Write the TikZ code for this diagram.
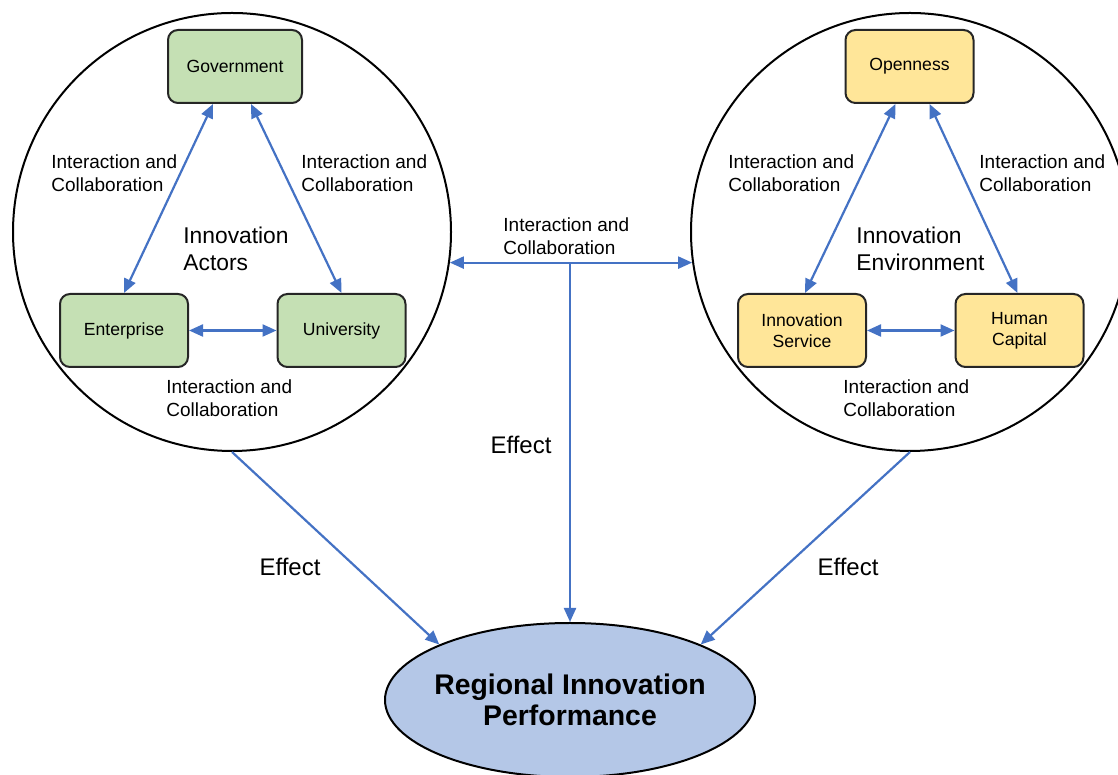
\documentclass[tikz,border=0pt]{standalone}
\usepackage{fontspec}
\setmainfont{Liberation Sans}
\usetikzlibrary{arrows.meta,shapes.geometric}
\definecolor{actorgreen}{HTML}{C5E0B4}
\definecolor{envyellow}{HTML}{FFE699}
\definecolor{perfblue}{HTML}{B4C7E7}
\definecolor{linkblue}{HTML}{4472C4}
\newcommand{\iac}{Interaction and\\Collaboration}

\begin{document}
\begin{tikzpicture}[x=0.5pt,y=0.5pt,>={Triangle[length=7pt,width=6pt]},
  ring/.style={circle,draw,line width=1pt,minimum size=219pt,inner sep=0pt},
  box/.style={draw=black!85,line width=1pt,rounded corners=5pt,minimum width=64pt,
    minimum height=36.5pt,align=center,font=\fontsize{8.8}{10.5}\selectfont},
  link/.style={linkblue,line width=1.1pt},
  note/.style={inner sep=0pt,align=left,anchor=west,font=\fontsize{9.5}{11.5}\selectfont},
  group/.style={inner sep=0pt,align=left,anchor=west,font=\fontsize{11.4}{13.5}\selectfont},
  effect/.style={inner sep=0pt,font=\fontsize{12}{14}\selectfont}]
   \useasboundingbox (0,0) rectangle (1118,775);
   \clip (0,0) rectangle (1118,775);
   % innovation actors
   \begin{scope}
    \node[ring] (actors) at (232,543) {};
    \node[box,fill=actorgreen,minimum width=67pt] (gov) at (235,708.5) {Government};
    \node[box,fill=actorgreen] (ent) at (124,444.5) {Enterprise};
    \node[box,fill=actorgreen] (uni) at (341.5,444.5) {University};
    \draw[link,<->] ([xshift=-11pt]gov.south) -- (ent.north);
    \draw[link,<->] ([xshift=8pt]gov.south) -- (uni.north);
    \draw[link,<->] (ent) -- (uni);
    \node[note] (ia1) at (51,602) {\iac};
    \node[note] (ia2) at (301,602) {\iac};
    \node[note] (ia3) at (166,377) {\iac};
    \node[group] (actlabel) at (183,526.5) {Innovation\\Actors};
   \end{scope}
   % innovation environment
   \begin{scope}[xshift=339pt]
    \node[ring] (env) at (232,543) {};
    \node[box,fill=envyellow] (open) at (231.5,708.5) {Openness};
    \node[box,fill=envyellow] (serv) at (124,444.5) {Innovation\\Service};
    \node[box,fill=envyellow] (hum) at (341.5,444.5) {Human\\Capital};
    \draw[link,<->] ([xshift=-7pt]open.south) -- ([xshift=1.5pt]serv.north);
    \draw[link,<->] ([xshift=10pt]open.south) -- ([xshift=-1pt]hum.north);
    \draw[link,<->] (serv) -- (hum);
    \node[note] (ie1) at (50,602) {\iac};
    \node[note] (ie2) at (301,602) {\iac};
    \node[note] (ie3) at (165,377) {\iac};
    \node[group] (envlabel) at (178,526.5) {Innovation\\Environment};
   \end{scope}
   % performance
   \node[ellipse,draw,line width=1pt,fill=perfblue,minimum width=185pt,minimum height=77pt,
     label={[align=center,font=\fontsize{14.2}{15.5}\selectfont\bfseries]center:Regional Innovation\\Performance}]
     (perf) at (570,75) {};
   \draw[link,<->] (actors.-8.7) -- (env.188.7);
   \draw[link,->] (perf.north |- actors.-8.7) -- (perf.north);
   \draw[link,->] (actors.south) -- (perf.157);
   \draw[link,->] (env.south) -- (perf.23);
   \node[note] (iamid) at (503,538.5) {\iac};
   \node[effect] (eff1) at (290,208) {Effect};
   \node[effect] (eff2) at (521,330) {Effect};
   \node[effect] (eff3) at (848,208) {Effect};
  \end{tikzpicture}
\end{document}
